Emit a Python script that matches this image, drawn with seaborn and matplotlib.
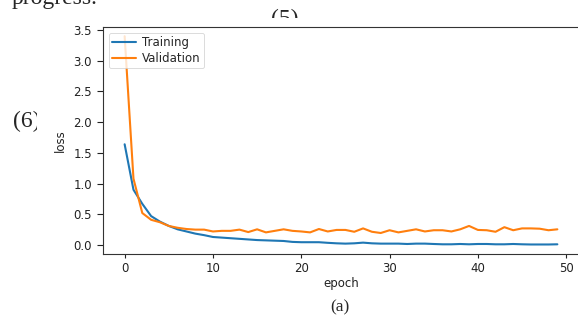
import matplotlib
matplotlib.use("Agg")
import matplotlib.pyplot as plt
from matplotlib.patches import Rectangle
import seaborn as sns

epochs = list(range(50))
training = [1.64, 0.90, 0.67, 0.47, 0.38, 0.31, 0.255, 0.22, 0.185, 0.16,
            0.13, 0.12, 0.11, 0.10, 0.09, 0.08, 0.075, 0.07, 0.065, 0.05,
            0.045, 0.045, 0.045, 0.035, 0.027, 0.022, 0.027, 0.038, 0.027, 0.022,
            0.022, 0.022, 0.016, 0.022, 0.022, 0.016, 0.011, 0.011, 0.016, 0.011,
            0.016, 0.016, 0.011, 0.011, 0.016, 0.011, 0.008, 0.008, 0.008, 0.011]
validation = [3.40, 1.08, 0.52, 0.41, 0.37, 0.31, 0.28, 0.26, 0.25, 0.25,
              0.22, 0.23, 0.23, 0.25, 0.21, 0.255, 0.205, 0.23, 0.255, 0.23,
              0.22, 0.205, 0.26, 0.22, 0.245, 0.245, 0.215, 0.27, 0.215, 0.195,
              0.24, 0.205, 0.23, 0.255, 0.22, 0.24, 0.24, 0.22, 0.255, 0.31,
              0.245, 0.24, 0.215, 0.29, 0.24, 0.27, 0.27, 0.265, 0.24, 0.255]
series_labels = ["Training", "Validation"]
series_colors = ["#1f77b4", "#ff7f0e"]
y_ticks = [0.0, 0.5, 1.0, 1.5, 2.0, 2.5, 3.0, 3.5]
x_ticks = [0, 10, 20, 30, 40, 50]

sns.set_style("ticks")
plt.rcParams["font.family"] = ["DejaVu Sans"]

W, H = 578, 321
fig = plt.figure(figsize=(W / 100, H / 100), dpi=100)
fig.patch.set_facecolor("white")

def fx(px):
    return px / W

def fy(py):
    return 1 - py / H

# surrounding page text (serif)
serif = ["Liberation Serif", "DejaVu Serif"]
fig.text(fx(12), fy(4), "progress.", family=serif, fontsize=17, va="baseline", ha="left", zorder=1)
fig.text(fx(285), fy(25), "(5)", family=serif, fontsize=17, va="baseline", ha="center", zorder=1)
fig.text(fx(13), fy(121), "(6)", family=serif, fontsize=17, va="center", ha="left", zorder=1)
fig.text(fx(340), fy(307), "(a)", family=serif, fontsize=12.5, va="center", ha="center", zorder=1)

# white chart image background covering parts of the page text
fig.add_artist(Rectangle((fx(37), fy(292)), fx(W) - fx(37) + 0.01, fy(18) - fy(292),
                         transform=fig.transFigure, facecolor="white", edgecolor="none", zorder=2))

left, right, top, bottom = 103, 579, 27, 254
ax = fig.add_axes([fx(left), fy(bottom), fx(right) - fx(left), fy(top) - fy(bottom)])
ax.set_zorder(3)

for vals, lab, col in zip([training, validation], series_labels, series_colors):
    sns.lineplot(x=epochs, y=vals, ax=ax, label=lab, color=col, linewidth=1.5)

ax.set_xlim(-2.45, 51.45)
ax.set_ylim(-0.147, 3.55)
ax.set_xticks(x_ticks)
ax.set_yticks(y_ticks)
ax.set_yticklabels([f"{v:.1f}" for v in y_ticks])
ax.tick_params(labelsize=8.5, width=0.8, colors="#222222")
ax.tick_params(axis="y", length=4.3, pad=3.5)
ax.tick_params(axis="x", length=3.0, pad=3.0)
ax.set_xlabel("epoch", fontsize=8.5, labelpad=1.5, color="#222222")
ax.set_ylabel("loss", fontsize=8.5, labelpad=5, color="#222222")
for s in ax.spines.values():
    s.set_linewidth(0.8)
    s.set_color("#333333")
leg = ax.legend(loc="upper left", fontsize=8.5, frameon=True, borderaxespad=0.5,
                handlelength=2.0, borderpad=0.3, labelspacing=0.2, handletextpad=0.5)
leg.get_frame().set_linewidth(0.6)

fig.savefig("out.png", dpi=100)
